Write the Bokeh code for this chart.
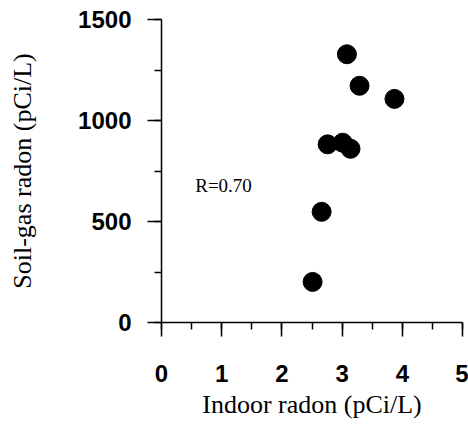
from bokeh.plotting import figure
from bokeh.models import Range1d, SingleIntervalTicker, Label, ColumnDataSource
from bokeh.embed import file_html
from bokeh.resources import INLINE

# Data
indoor_radon = [3.08, 3.29, 3.87, 2.76, 3.01, 3.14, 2.66, 2.51]
soil_gas_radon = [1328, 1172, 1107, 882, 890, 860, 548, 201]

x_label = "Indoor radon (pCi/L)"
y_label = "Soil-gas radon (pCi/L)"
r_text = "R=0.70"
r_x, r_y = 0.56, 677

src = ColumnDataSource(data=dict(x=indoor_radon, y=soil_gas_radon))

p = figure(width=468, height=424, x_range=Range1d(0, 5), y_range=Range1d(0, 1500),
           output_backend="svg", toolbar_location=None,
           min_border_left=161, min_border_right=6, min_border_top=19, min_border_bottom=102)

p.scatter("x", "y", source=src, size=19, fill_color="black", line_color="black")

p.outline_line_color = None
p.xgrid.visible = False
p.ygrid.visible = False
p.background_fill_color = "white"
p.border_fill_color = "white"

p.xaxis.ticker = SingleIntervalTicker(interval=1, num_minor_ticks=2)
p.yaxis.ticker = SingleIntervalTicker(interval=500, num_minor_ticks=2)

for ax in (p.xaxis, p.yaxis):
    ax.axis_line_color = "black"
    ax.axis_line_width = 1.5
    ax.major_tick_line_color = "black"
    ax.major_tick_line_width = 1.5
    ax.minor_tick_line_color = "black"
    ax.minor_tick_line_width = 1.5
    ax.major_tick_in = 0
    ax.minor_tick_in = 0
    ax.major_tick_out = 14
    ax.minor_tick_out = 7
    ax.major_label_text_font = "Liberation Sans"
    ax.major_label_text_font_size = "24px"
    ax.major_label_text_font_style = "bold"
    ax.major_label_text_color = "black"
    ax.axis_label_text_font = "Liberation Serif"
    ax.axis_label_text_font_style = "normal"
    ax.axis_label_text_font_size = "26px"
    ax.axis_label_text_color = "black"

p.xaxis.axis_label = x_label
p.yaxis.axis_label = y_label
p.xaxis.major_label_standoff = 28
p.yaxis.major_label_standoff = 16
p.xaxis.axis_label_standoff = 5
p.yaxis.axis_label_standoff = 38

p.add_layout(Label(x=r_x, y=r_y, text=r_text, text_font="Liberation Serif",
                   text_font_size="19px", text_color="black", text_baseline="alphabetic"))

open("out.html", "w").write(file_html(p, INLINE))
